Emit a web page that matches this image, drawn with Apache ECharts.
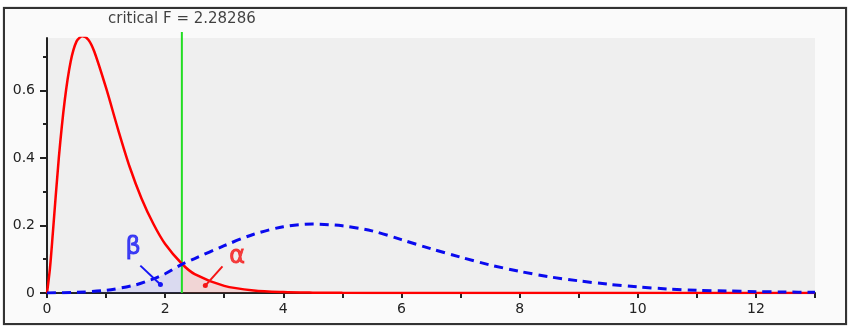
<!DOCTYPE html>
<html><head><meta charset="utf-8">
<script src="https://cdn.jsdelivr.net/npm/echarts@6/dist/echarts.min.js"></script>
<style>
html,body{margin:0;padding:0;background:#fff;}
#frame{position:absolute;left:3px;top:7px;width:840px;height:314px;border:2px solid #333;background:#fafafa;box-shadow:0 0 1px #777;}
#c{position:absolute;left:0;top:0;width:855px;height:332px;}
</style>
</head><body><div id="frame"></div><div id="c"></div>
<script>
const critF = 2.28286;
const critLabel = 'critical F = 2.28286';
const redX = [0, 0.05, 0.1, 0.2, 0.3, 0.4, 0.5, 0.6, 0.7, 0.8, 1.0, 1.2, 1.4, 1.6, 1.8, 2.0, 2.28286, 2.5, 3.0, 3.5, 4.0, 4.5, 5, 6, 8, 13];
const redY = [0, 0.073, 0.18, 0.40, 0.57, 0.685, 0.745, 0.76, 0.75, 0.715, 0.607, 0.486, 0.373, 0.28, 0.205, 0.145, 0.0866, 0.056, 0.021, 0.0075, 0.0028, 0.0011, 0.0004, 0.0001, 0, 0];
const blueX = [0, 0.5, 1, 1.5, 1.8, 2.0, 2.28286, 2.5, 3, 3.5, 4, 4.5, 5, 5.5, 6, 6.5, 7, 7.5, 8, 8.5, 9, 9.5, 10, 10.5, 11, 11.5, 12, 12.5, 13];
const blueY = [0, 0.002, 0.008, 0.024, 0.042, 0.057, 0.085, 0.102, 0.14, 0.174, 0.196, 0.204, 0.199, 0.184, 0.158, 0.131, 0.106, 0.083, 0.064, 0.048, 0.036, 0.026, 0.018, 0.012, 0.008, 0.006, 0.004, 0.003, 0.002];
const xTickValues = [0,1,2,3,4,5,6,7,8,9,10,11,12,13];
const xLabelValues = [0,2,4,6,8,10,12];
const yMajor = [0, 0.2, 0.4, 0.6];
const yMinor = [0.1, 0.3, 0.5, 0.7];
const annoText = ['β', 'α'];
const annoPos = [[1.46, 0.135], [3.22, 0.108]];
const annoArrows = [[[1.58, 0.081], [1.92, 0.025]], [[2.97, 0.079], [2.68, 0.022]]];
const annoColors = ['#1515f5', '#f51515'];

const FONT = 'DejaVu Sans';
const redData = redX.map((x, i) => [x, redY[i]]);
const blueData = blueX.map((x, i) => [x, blueY[i]]);
const redFill = redData.filter(p => p[0] >= critF);
const blueFill = blueData.filter(p => p[0] <= critF);

const chart = echarts.init(document.getElementById('c'), null, {renderer: 'canvas'});
const series = [
  {type: 'line', xAxisIndex: 0, yAxisIndex: 0, data: blueFill, smooth: 0.3, showSymbol: false,
   lineStyle: {width: 0}, areaStyle: {color: 'rgba(60,60,255,0.16)'}, z: 1, silent: true},
  {type: 'line', xAxisIndex: 0, yAxisIndex: 0, data: redFill, smooth: 0.3, showSymbol: false,
   lineStyle: {width: 0}, areaStyle: {color: 'rgba(255,60,60,0.2)'}, z: 1, silent: true},
  {type: 'line', xAxisIndex: 1, yAxisIndex: 2, data: [[critF, 0], [critF, 1]], showSymbol: false,
   lineStyle: {color: '#22dd22', width: 2}, z: 2, silent: true},
  {type: 'scatter', xAxisIndex: 1, yAxisIndex: 2, data: [[critF, 1]], symbolSize: 0,
   label: {show: true, position: 'top', distance: 5, formatter: critLabel, color: '#111', fontFamily: FONT, fontSize: 15}, z: 5, silent: true},
  {type: 'line', xAxisIndex: 0, yAxisIndex: 0, data: redData, smooth: 0.3, showSymbol: false,
   lineStyle: {color: '#ff0000', width: 2.5}, z: 3, silent: true},
  {type: 'line', xAxisIndex: 0, yAxisIndex: 0, data: blueData, smooth: 0.3, showSymbol: false,
   lineStyle: {color: '#0a0aee', width: 3, type: [9, 6]}, z: 4, silent: true}
];
annoText.forEach((t, i) => {
  series.push({type: 'scatter', xAxisIndex: 0, yAxisIndex: 0, data: [annoPos[i]], symbolSize: 0,
    label: {show: true, position: 'inside', formatter: t, color: annoColors[i], fontFamily: FONT, fontSize: 24,
            textBorderColor: annoColors[i], textBorderWidth: 0.8}, z: 6, silent: true});
  series.push({type: 'line', xAxisIndex: 0, yAxisIndex: 0,
    data: [{value: annoArrows[i][0], symbolSize: 0}, {value: annoArrows[i][1], symbolSize: 5}],
    symbol: 'circle', showSymbol: true, itemStyle: {color: annoColors[i]},
    lineStyle: {color: annoColors[i], width: 2}, z: 6, silent: true});
});

chart.setOption({
  animation: false,
  backgroundColor: 'transparent',
  grid: [
    {left: 47, right: 40, top: 38, bottom: 39, show: true, backgroundColor: '#efefef', borderWidth: 0},
    {left: 47, right: 40, top: 32, bottom: 39, show: false}
  ],
  xAxis: [
    {type: 'value', gridIndex: 0, min: 0, max: 13, interval: 1,
     axisLine: {show: true, onZero: false, lineStyle: {color: '#222', width: 2}},
     axisTick: {show: true, length: 5, customValues: xTickValues, lineStyle: {color: '#222', width: 2}},
     axisLabel: {customValues: xLabelValues, color: '#222', fontFamily: FONT, fontSize: 14, margin: 9},
     splitLine: {show: false}},
    {type: 'value', gridIndex: 1, min: 0, max: 13, show: false}
  ],
  yAxis: [
    {type: 'value', gridIndex: 0, min: 0, max: 0.755, interval: 0.1,
     axisLine: {show: true, onZero: false, lineStyle: {color: '#222', width: 2}},
     axisTick: {show: true, length: 7, customValues: yMajor, lineStyle: {color: '#222', width: 2}},
     axisLabel: {customValues: yMajor, color: '#222', fontFamily: FONT, fontSize: 14, margin: 12},
     splitLine: {show: false}},
    {type: 'value', gridIndex: 0, position: 'left', min: 0, max: 0.755, interval: 0.1,
     axisLine: {show: false},
     axisTick: {show: true, length: 4, customValues: yMinor, lineStyle: {color: '#222', width: 2}},
     axisLabel: {show: false}, splitLine: {show: false}},
    {type: 'value', gridIndex: 1, min: 0, max: 1, show: false}
  ],
  series: series
});
</script>
</body></html>
